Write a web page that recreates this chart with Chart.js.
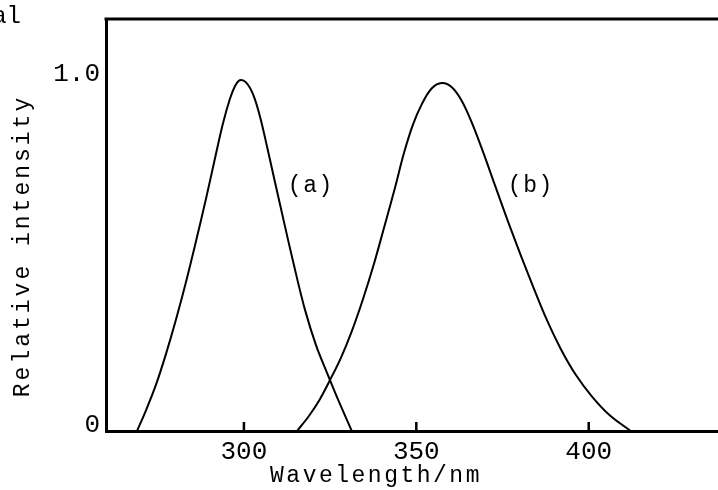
<!DOCTYPE html>
<html>
<head>
<meta charset="utf-8">
<script src="https://cdn.jsdelivr.net/npm/chart.js@4.4.1/dist/chart.umd.min.js"></script>
<style>
    html, body { margin: 0; padding: 0; background: #fff; overflow: hidden; }
</style>
</head>
<body>
<canvas id="spectra" width="718" height="490"></canvas>
<script>
// curve (a)
const waveA = [269.0, 271.6, 274.5, 277.4, 280.3, 283.2, 286.1, 289.0, 291.6, 293.9, 295.9, 297.4, 298.8,
               300.6, 302.6, 304.6, 306.7, 309.0, 311.6, 314.5, 317.7, 320.9, 324.1, 327.5, 331.3];
const intA  = [0, 0.059, 0.132, 0.220, 0.318, 0.425, 0.541, 0.662, 0.777, 0.876, 0.946, 0.983, 1.0,
               0.994, 0.961, 0.899, 0.811, 0.710, 0.597, 0.473, 0.346, 0.245, 0.166, 0.085, 0];

// curve (b)
const waveB = [315.4, 318.8, 322.0, 324.9, 328.1, 331.3, 334.5, 337.7, 340.9, 343.8, 346.4, 349.0, 351.6, 354.5, 357.4,
               360.3, 363.2, 366.1, 369.3, 372.8, 376.5, 380.3, 384.1, 387.8, 391.9, 396.2, 400.9, 406.1, 412.2];
const intB  = [0, 0.042, 0.090, 0.144, 0.208, 0.285, 0.375, 0.476, 0.589, 0.693, 0.792, 0.873, 0.932, 0.977, 0.992,
               0.980, 0.941, 0.879, 0.797, 0.701, 0.600, 0.501, 0.406, 0.318, 0.234, 0.161, 0.099, 0.045, 0];

const xTicks = [300, 350, 400];
const yTicks = [0, 1];
const yTickLabels = ['0', '1.0'];
const curveNames = ['(a)', '(b)'];
const curveNameX = [319.4, 383.2];
const curveNameY = [0.70, 0.70];
const xTitle = 'Wavelength/nm';
const yTitle = 'Relative intensity';
const cornerText = 'al';

const FONT = '"Liberation Mono", "DejaVu Sans Mono", monospace';

const toPoints = (xs, ys) => xs.map((x, i) => ({ x: x, y: ys[i] }));

// рамка зверху, внутрішні засічки, підписи
const extras = {
    id: 'extras',
    afterDraw(chart) {
        const { ctx, chartArea: a, scales } = chart;
        ctx.save();
        ctx.strokeStyle = '#000';
        ctx.lineWidth = 3;
        ctx.beginPath();
        ctx.moveTo(a.left - 1.5, a.top);
        ctx.lineTo(a.right, a.top);
        ctx.stroke();

        ctx.lineWidth = 2.5;
        xTicks.forEach(v => {
            const px = scales.x.getPixelForValue(v);
            ctx.beginPath();
            ctx.moveTo(px, a.bottom);
            ctx.lineTo(px, a.bottom - 9);
            ctx.stroke();
        });

        ctx.fillStyle = '#000';
        ctx.font = '23px ' + FONT;
        ctx.letterSpacing = '1.5px';
        ctx.textAlign = 'center';
        ctx.textBaseline = 'middle';
        curveNames.forEach((t, i) => {
            ctx.fillText(t, scales.x.getPixelForValue(curveNameX[i]), scales.y.getPixelForValue(curveNameY[i]));
        });

        ctx.letterSpacing = '2.5px';
        ctx.fillText(xTitle, 376, 476);

        ctx.letterSpacing = '3px';
        ctx.save();
        ctx.translate(23, 246);
        ctx.rotate(-Math.PI / 2);
        ctx.fillText(yTitle, 0, 0);
        ctx.restore();

        ctx.letterSpacing = '0px';
        ctx.font = '24px ' + FONT;
        ctx.textAlign = 'right';
        ctx.textBaseline = 'alphabetic';
        ctx.fillText(cornerText, 21, 23);
        ctx.restore();
    }
};

new Chart(document.getElementById('spectra'), {
    type: 'scatter',
    data: {
        datasets: [
            { data: toPoints(waveA, intA) },
            { data: toPoints(waveB, intB) }
        ]
    },
    options: {
        responsive: false,
        devicePixelRatio: 1,
        animation: false,
        showLine: true,
        elements: {
            point: { radius: 0 },
            line: { borderColor: '#000', borderWidth: 2, tension: 0.35, fill: false }
        },
        layout: { padding: { top: 14, right: 0, bottom: 0, left: 0 } },
        plugins: { legend: { display: false }, tooltip: { enabled: false } },
        scales: {
            x: {
                type: 'linear',
                min: 260,
                max: 437.5,
                afterBuildTicks: s => { s.ticks = xTicks.map(v => ({ value: v })); },
                afterFit: s => { s.height = 59; },
                grid: { display: false, drawTicks: false },
                border: { display: true, color: '#000', width: 3 },
                ticks: { color: '#000', padding: 8, font: { family: FONT, size: 26, lineHeight: 1 } }
            },
            y: {
                type: 'linear',
                min: 0,
                max: 1.1746,
                afterBuildTicks: s => { s.ticks = yTicks.map(v => ({ value: v })); },
                afterFit: s => { s.width = 106; },
                grid: { display: false, drawTicks: false },
                border: { display: true, color: '#000', width: 3 },
                ticks: {
                    color: '#000',
                    padding: 6,
                    labelOffset: -6,
                    font: { family: FONT, size: 26, lineHeight: 1 },
                    callback: (v, i) => yTickLabels[i]
                }
            }
        }
    },
    plugins: [extras]
});
</script>
</body>
</html>
